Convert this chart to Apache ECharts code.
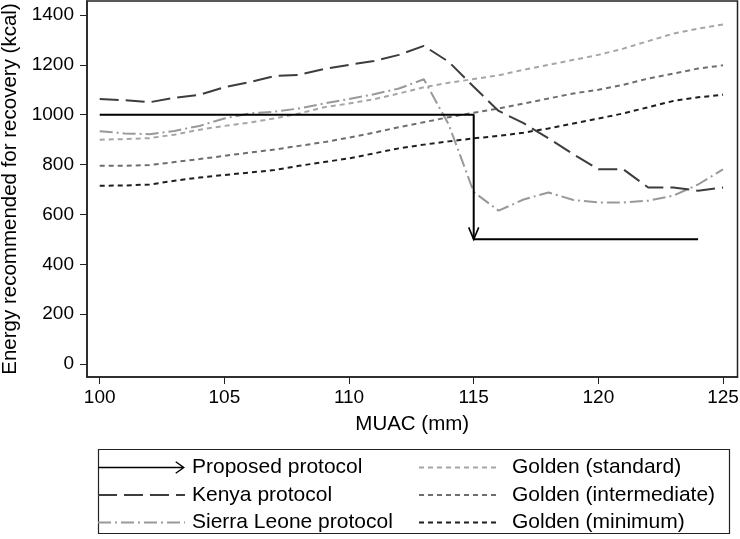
<!DOCTYPE html>
<html>
<head>
<meta charset="utf-8">
<script src="https://cdn.jsdelivr.net/npm/echarts@6/dist/echarts.min.js"></script>
<style>
html,body{margin:0;padding:0;background:#fff;}
#chart{width:740px;height:539px;}
</style>
</head>
<body>
<div id="chart"></div>
<script>
// ---- data ----
const muac = [100,101,102,103,104,105,106,107,108,109,110,111,112,113,114,115,116,117,118,119,120,121,122,123,124,125];
const kenya = [1063,1058,1050,1068,1080,1110,1130,1155,1160,1183,1200,1215,1240,1276,1212,1112,1015,966,905,841,781,781,708,708,695,708];
const sierraLeone = [934,925,922,935,955,985,1005,1012,1025,1045,1063,1082,1105,1142,960,690,615,660,688,658,648,648,655,675,720,781];
const goldenStandard = [900,902,906,920,940,955,968,985,1005,1030,1045,1062,1085,1110,1128,1143,1158,1180,1200,1220,1240,1265,1295,1325,1345,1362];
const goldenIntermediate = [795,795,798,810,822,835,848,860,875,890,908,928,950,970,990,1008,1025,1045,1065,1085,1100,1120,1145,1165,1185,1198];
const goldenMinimum = [715,716,720,735,748,758,768,778,795,810,825,845,865,880,893,905,915,928,945,965,985,1005,1030,1055,1070,1080];
const proposedX = [100,115,115,124];
const proposedY = [1000,1000,500,500];
const arrowTip = [115,500];
const xTicks = [100,105,110,115,120,125];
const yTicks = [0,200,400,600,800,1000,1200,1400];
const seriesNames = ['Proposed protocol','Kenya protocol','Sierra Leone protocol','Golden (standard)','Golden (intermediate)','Golden (minimum)'];

const pair = (xs, ys) => xs.map((x,i)=>[x, ys[i]]);
const FONT = '"Liberation Sans", Arial, Helvetica, sans-serif';

const chart = echarts.init(document.getElementById('chart'), null, {renderer:'canvas'});

function lineSeries(name, values, color, width, dash){
  return {
    name, type:'line', data: pair(muac, values), symbol:'none', showSymbol:false,
    lineStyle:{color, width, type: dash}, itemStyle:{color}, z: 3, animation:false
  };
}

const option = {
  animation:false,
  backgroundColor:'#fff',
  textStyle:{fontFamily:FONT},
  grid:{left:87, right:2.5, top:1, bottom:162, show:true, borderColor:'#222', borderWidth:1.5, backgroundColor:'#fff', outerBoundsMode:'none', containLabel:false},
  xAxis:{
    type:'value', min:99.49, max:125.58,
    name:'MUAC (mm)', nameLocation:'middle', nameGap:37,
    nameTextStyle:{color:'#000', fontSize:20.5, fontFamily:FONT},
    axisLine:{show:true, onZero:false, lineStyle:{color:'#222', width:1.5}},
    axisTick:{show:true, inside:false, length:7, customValues: xTicks, lineStyle:{color:'#222', width:1}},
    axisLabel:{show:true, customValues: xTicks, margin:11, color:'#000', fontSize:19, fontFamily:FONT, formatter:(v)=>String(v)},
    splitLine:{show:false}
  },
  yAxis:{
    type:'value', min:-52, max:1456,
    name:'Energy recommended for recovery (kcal)', nameLocation:'middle', nameGap:64, nameRotate:90,
    nameTextStyle:{color:'#000', fontSize:20.5, fontFamily:FONT},
    axisLine:{show:true, onZero:false, lineStyle:{color:'#222', width:1.5}},
    axisTick:{show:true, inside:false, length:7, customValues: yTicks, lineStyle:{color:'#222', width:1}},
    axisLabel:{show:true, customValues: yTicks, margin:13, color:'#000', fontSize:19, fontFamily:FONT, formatter:(v)=>String(v)},
    splitLine:{show:false}
  },
  legend:[
    {
      orient:'vertical', left:97, top:457, padding:0, itemWidth:87, itemHeight:14, itemGap:6.5,
      itemStyle:{opacity:0},
      textStyle:{color:'#000', fontSize:21, fontFamily:FONT, padding:[0,0,0,2]},
      data:[
        {name:seriesNames[0], icon:'path://M0,9.3 L81,9.3 L81,10.7 L0,10.7 Z M75,4 L83.5,10 L75,16 L74.2,15 L81.3,10 L74.2,5 Z', itemStyle:{opacity:1, color:'#000'}},
        {name:seriesNames[1]},
        {name:seriesNames[2]}
      ],
      selectedMode:false
    },
    {
      orient:'vertical', left:418, top:457, padding:0, itemWidth:80, itemHeight:14, itemGap:6.5,
      itemStyle:{opacity:0},
      textStyle:{color:'#000', fontSize:21, fontFamily:FONT, padding:[0,0,0,8]},
      data:[{name:seriesNames[3]},{name:seriesNames[4]},{name:seriesNames[5]}],
      selectedMode:false
    }
  ],
  graphic:[{
    type:'rect', left:96, top:447, shape:{width:631, height:84},
    style:{fill:'none', stroke:'#222', lineWidth:1.2}, silent:true
  }],
  series:[
    lineSeries(seriesNames[3], goldenStandard, '#a6a6a6', 2, [5,4]),
    lineSeries(seriesNames[4], goldenIntermediate, '#6e6e6e', 2, [5,4]),
    lineSeries(seriesNames[5], goldenMinimum, '#1e1e1e', 2, [5,4]),
    lineSeries(seriesNames[2], sierraLeone, '#999999', 2, [13,4,2,4]),
    lineSeries(seriesNames[1], kenya, '#3d3d3d', 2, [19,7]),
    {
      name:seriesNames[0], type:'line', data: pair(proposedX, proposedY), symbol:'none',
      lineStyle:{color:'#000', width:2, type:'solid'}, itemStyle:{color:'#000'}, z:5, animation:false
    },
    {
      name:'Proposed protocol arrow', type:'custom', data:[arrowTip], z:6,
      renderItem:function(params, api){
        const p = api.coord([api.value(0), api.value(1)]);
        return {
          type:'polyline',
          shape:{points:[[p[0]-5, p[1]-12],[p[0], p[1]],[p[0]+5, p[1]-12]]},
          style:{stroke:'#000', lineWidth:1.6, fill:'none'}
        };
      }
    }
  ]
};
chart.setOption(option);
</script>
</body>
</html>
